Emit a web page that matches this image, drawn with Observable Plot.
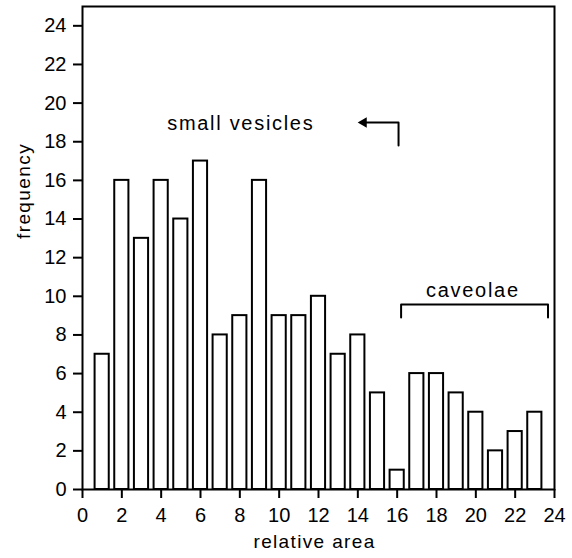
<!DOCTYPE html>
<html>
<head>
<meta charset="utf-8">
<script src="https://cdn.jsdelivr.net/npm/d3@7"></script>
<script src="https://cdn.jsdelivr.net/npm/@observablehq/plot@0.6"></script>
<style>
  html, body { margin: 0; padding: 0; background: white; }
  svg { display: block; }
</style>
</head>
<body>
<div id="chart"></div>
<script>
const relativeArea = [1, 2, 3, 4, 5, 6, 7, 8, 9, 10, 11, 12, 13, 14, 15, 16, 17, 18, 19, 20, 21, 22, 23];
const frequency   = [7, 16, 13, 16, 14, 17, 8, 9, 16, 9, 9, 10, 7, 8, 5, 1, 6, 6, 5, 4, 2, 3, 4];
const xTicks = [0, 2, 4, 6, 8, 10, 12, 14, 16, 18, 20, 22, 24];
const yTicks = [0, 2, 4, 6, 8, 10, 12, 14, 16, 18, 20, 22, 24];
const xLabel = "relative area";
const yLabel = "frequency";

const labels = [
  {x: 8.05, y: 18.95, text: "small vesicles"},
  {x: 19.85, y: 10.3, text: "caveolae"}
];
const caveolaeBracket = [
  {x: 16.2, y: 8.9}, {x: 16.2, y: 9.58}, {x: 23.67, y: 9.58}, {x: 23.67, y: 8.9}
];
const arrowPath = [
  {x: 16.07, y: 17.8}, {x: 16.07, y: 19.0}, {x: 14.4, y: 19.0}
];
const arrowHead = [{x: 14.3, y: 19.0}];

const data = relativeArea.map((x, i) => ({x, y: frequency[i]}));
const halfWidth = 0.36;
const letterSpacing = {"small vesicles": 1.7, "caveolae": 1.7, "relative area": 1.35, "frequency": 1.4};

const chart = Plot.plot({
  width: 572,
  height: 558,
  marginLeft: 82,
  marginRight: 18,
  marginTop: 6,
  marginBottom: 69,
  x: {domain: [0, 24]},
  y: {domain: [0, 25]},
  style: {
    fontFamily: "'Liberation Sans', Arial, sans-serif",
    fontSize: "20px",
    background: "white",
    color: "black",
    overflow: "visible"
  },
  marks: [
    Plot.rect(data, {
      x1: d => d.x - halfWidth,
      x2: d => d.x + halfWidth,
      y1: 0,
      y2: "y",
      fill: "white",
      stroke: "black",
      strokeWidth: 2
    }),
    Plot.frame({stroke: "black", strokeWidth: 2}),
    Plot.axisX({ticks: xTicks, tickSize: 9, tickPadding: 9, label: null, strokeWidth: 2, fontSize: 20}),
    Plot.axisY({ticks: yTicks, tickSize: 9, tickPadding: 7, label: null, strokeWidth: 2, fontSize: 20}),
    Plot.text([xLabel], {frameAnchor: "bottom", dy: 58, dx: -4, text: d => d, fontSize: 19}),
    Plot.text([yLabel], {frameAnchor: "left", dx: -59, dy: -9, rotate: -90, text: d => d, fontSize: 19}),
    Plot.text(labels, {x: "x", y: "y", text: "text", fontSize: 20}),
    Plot.line(caveolaeBracket, {x: "x", y: "y", stroke: "black", strokeWidth: 2}),
    Plot.line(arrowPath, {x: "x", y: "y", stroke: "black", strokeWidth: 2}),
    Plot.dot(arrowHead, {x: "x", y: "y", symbol: "triangle2", r: 5, rotate: -90, fill: "black"})
  ]
});
d3.select(chart).selectAll('g[aria-label="text"] text').each(function() {
  const s = letterSpacing[this.textContent];
  if (s) this.setAttribute("letter-spacing", s);
});
document.getElementById("chart").append(chart);
</script>
</body>
</html>
